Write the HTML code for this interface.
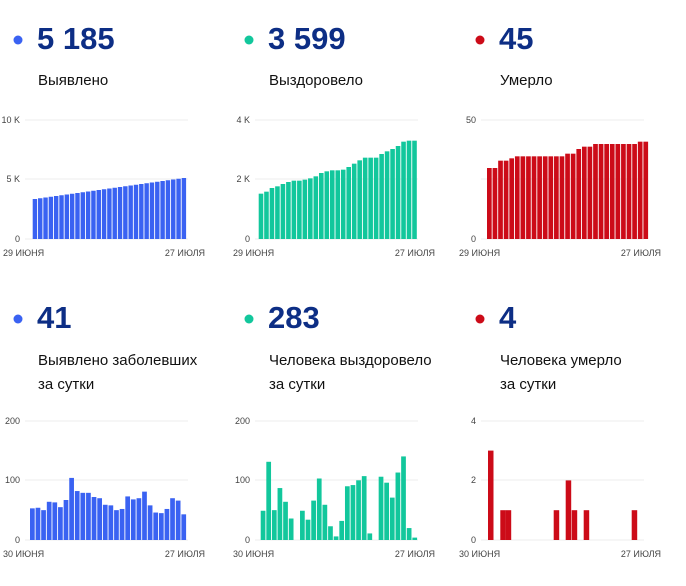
<!DOCTYPE html>
<html><head><meta charset="utf-8"><style>
html,body{margin:0;padding:0;background:#fff;}
svg{display:block;}
.big{font-family:"Liberation Sans",sans-serif;font-weight:bold;font-size:31px;fill:#0d2e85;}
.lab{font-family:"Liberation Sans",sans-serif;font-size:15px;fill:#111;}
.ax{font-family:"Liberation Sans",sans-serif;font-size:9px;fill:#444;}
</style></head><body>
<svg id="s" width="686" height="586" xmlns="http://www.w3.org/2000/svg">
<circle cx="18" cy="40" r="4.5" fill="#3a62f2"/>
<text class="big" x="37" y="49">5 185</text>
<text class="lab" x="38" y="85">Выявлено</text>
<circle cx="249" cy="40" r="4.5" fill="#12c79c"/>
<text class="big" x="268" y="49">3 599</text>
<text class="lab" x="269" y="85">Выздоровело</text>
<circle cx="480" cy="40" r="4.5" fill="#cc0b18"/>
<text class="big" x="499" y="49">45</text>
<text class="lab" x="500" y="85">Умерло</text>

<circle cx="18" cy="319" r="4.5" fill="#3a62f2"/>
<text class="big" x="37" y="328">41</text>
<text class="lab" x="38" y="365">Выявлено заболевших</text>
<text class="lab" x="38" y="389">за сутки</text>
<circle cx="249" cy="319" r="4.5" fill="#12c79c"/>
<text class="big" x="268" y="328">283</text>
<text class="lab" x="269" y="365">Человека выздоровело</text>
<text class="lab" x="269" y="389">за сутки</text>
<circle cx="480" cy="319" r="4.5" fill="#cc0b18"/>
<text class="big" x="499" y="328">4</text>
<text class="lab" x="500" y="365">Человека умерло</text>
<text class="lab" x="500" y="389">за сутки</text>
<g id="g"></g>
</svg>
<script>
var g=document.getElementById('g'),h='';
function grid(ox,base,labels,d1,d2){
  var ys=[base-119,base-60,base];
  for(var i=0;i<3;i++){
    h+='<line x1="'+(ox+25)+'" x2="'+(ox+188)+'" y1="'+ys[i]+'" y2="'+ys[i]+'" stroke="#ececec" stroke-width="1"/>';
    h+='<text class="ax" x="'+(ox+20)+'" y="'+(ys[i]+3)+'" text-anchor="end">'+labels[i]+'</text>';
  }
  h+='<text class="ax" x="'+(ox+3)+'" y="'+(base+17)+'">'+d1+'</text>';
  h+='<text class="ax" x="'+(ox+205)+'" y="'+(base+17)+'" text-anchor="end">'+d2+'</text>';
}
function bars(x0,x1,base,hs,col){
  var n=hs.length,w=(x1-x0)/n;
  for(var i=0;i<n;i++){ if(hs[i]<=0)continue;
    h+='<rect x="'+(x0+i*w).toFixed(2)+'" y="'+(base-hs[i]).toFixed(2)+'" width="'+(w-0.9).toFixed(2)+'" height="'+hs[i].toFixed(2)+'" fill="'+col+'"/>';}
}
grid(0,239,['10 K','5 K','0'],'29 ИЮНЯ','27 ИЮЛЯ');
var a=[];for(var i=0;i<29;i++)a.push((418-(298-63*i/28))/3+0);
bars(32.7,187,239,a,'#3a62f2');
grid(230,239,['4 K','2 K','0'],'29 ИЮНЯ','27 ИЮЛЯ');
var t2=[282,276,265,260,253,247,243,243,240,236,230,220,215,212,212,210,202,192,182,174,174,174,163,155,148,139,126,123,123];
bars(258.7,417.7,239,t2.map(function(y){return (418-y)/3;}),'#12c79c');
grid(456,239,['50','','0'],'29 ИЮНЯ','27 ИЮЛЯ');
var t3=[205,205,183,183,176,170,170,170,170,170,170,170,170,170,162,162,148,141,141,133,133,133,133,133,133,133,133,126,126];
bars(487,649,239,t3.map(function(y){return (418-y)/3;}),'#cc0b18');
grid(0,540,['200','100','0'],'30 ИЮНЯ','27 ИЮЛЯ');
var b1=[53,54,50,64,63,55,67,104,82,79,79,72,70,59,58,50,52,73,68,70,81,58,46,45,52,70,66,43];
bars(30,187,540,b1.map(function(v){return v*0.597;}),'#3a62f2');
grid(230,540,['200','100','0'],'30 ИЮНЯ','27 ИЮЛЯ');
var b2=[49,131,50,87,64,36,0,49,34,66,103,59,23,6,32,90,92,100,107,11,0,106,96,71,113,140,20,4];
bars(260.7,418,540,b2.map(function(v){return v*0.597;}),'#12c79c');
grid(456,540,['4','2','0'],'30 ИЮНЯ','27 ИЮЛЯ');
var sp=[[488,3],[500.3,1],[505.7,1],[553.7,1],[565.7,2],[571.7,1],[583.7,1],[631.7,1]];
sp.forEach(function(p){var hh=p[1]*29.8;h+='<rect x="'+p[0]+'" y="'+(540-hh)+'" width="5.5" height="'+hh+'" fill="#cc0b18"/>';});
g.innerHTML=h;
</script>
</body></html>
